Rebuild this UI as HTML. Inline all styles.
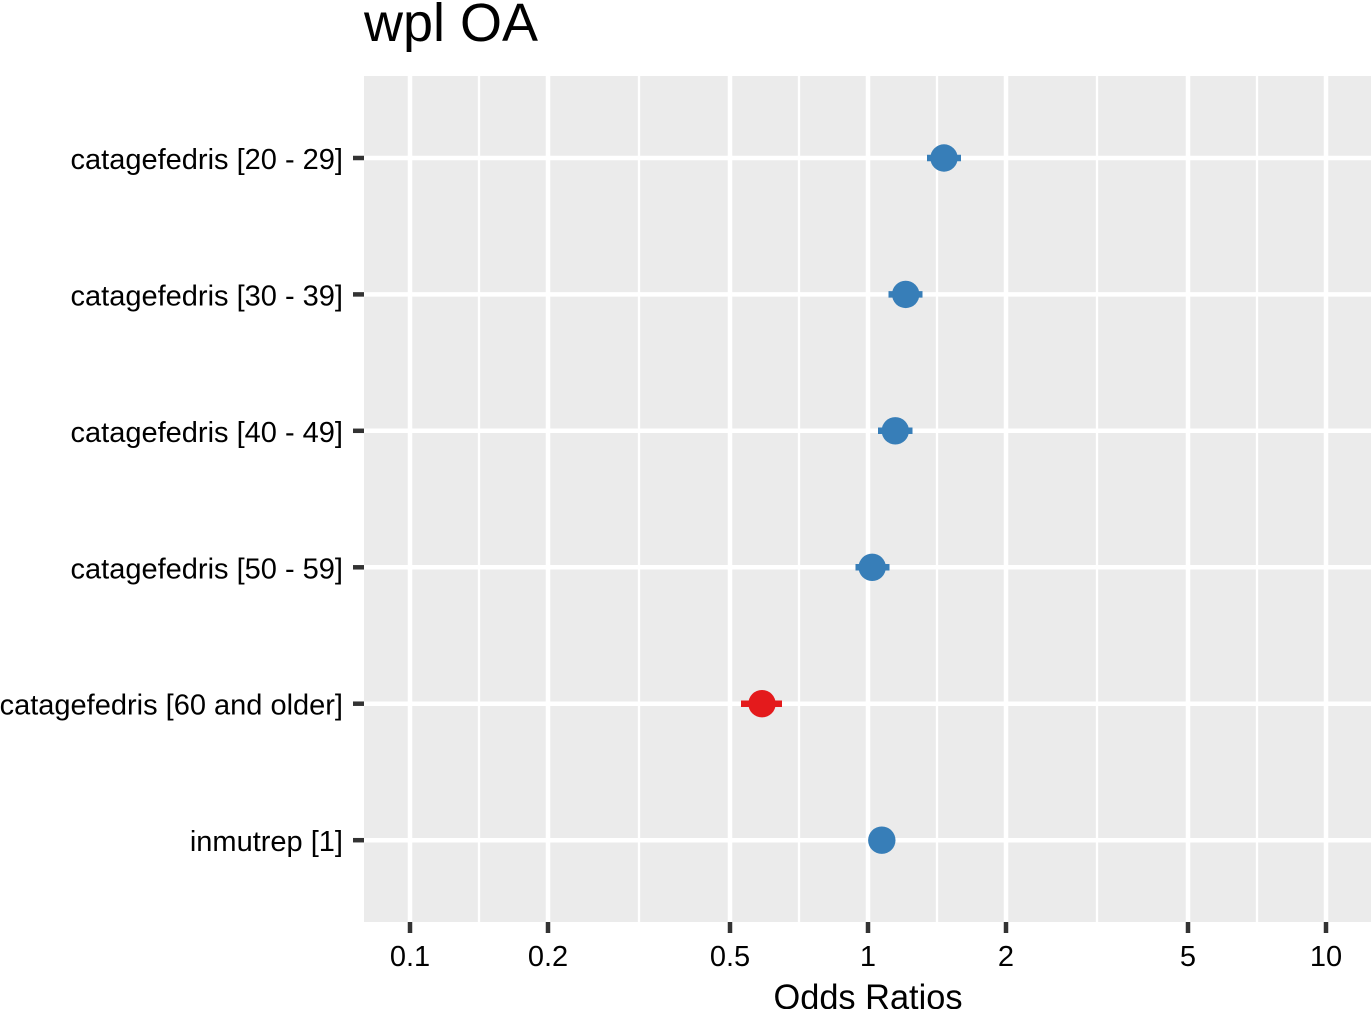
<!DOCTYPE html>
<html>
<head>
<meta charset="utf-8">
<style>
  html, body { margin: 0; padding: 0; background: #ffffff; }
  svg { display: block; }
  text { font-family: "Liberation Sans", Arial, Helvetica, sans-serif; }
</style>
</head>
<body>
<svg width="1371" height="1009" viewBox="0 0 1371 1009" xmlns="http://www.w3.org/2000/svg">
  <rect x="0" y="0" width="1371" height="1009" fill="#ffffff"/>

  <!-- Title -->
  <text x="364" y="41" font-size="54" fill="#000000" textLength="174" lengthAdjust="spacingAndGlyphs">wpl OA</text>

  <!-- Panel -->
  <rect x="364" y="76" width="1007" height="846" fill="#EBEBEB"/>

  <!-- minor vertical gridlines -->
  <g stroke="#ffffff" stroke-width="2.3">
    <line x1="479" y1="76" x2="479" y2="922"/>
    <line x1="639" y1="76" x2="639" y2="922"/>
    <line x1="799" y1="76" x2="799" y2="922"/>
    <line x1="937" y1="76" x2="937" y2="922"/>
    <line x1="1097" y1="76" x2="1097" y2="922"/>
    <line x1="1257" y1="76" x2="1257" y2="922"/>
  </g>
  <!-- major vertical gridlines -->
  <g stroke="#ffffff" stroke-width="4.5">
    <line x1="410" y1="76" x2="410" y2="922"/>
    <line x1="548" y1="76" x2="548" y2="922"/>
    <line x1="730" y1="76" x2="730" y2="922"/>
    <line x1="868" y1="76" x2="868" y2="922"/>
    <line x1="1006" y1="76" x2="1006" y2="922"/>
    <line x1="1188" y1="76" x2="1188" y2="922"/>
    <line x1="1326" y1="76" x2="1326" y2="922"/>
  </g>
  <!-- major horizontal gridlines -->
  <g stroke="#ffffff" stroke-width="4.5">
    <line x1="364" y1="158" x2="1371" y2="158"/>
    <line x1="364" y1="294.4" x2="1371" y2="294.4"/>
    <line x1="364" y1="430.8" x2="1371" y2="430.8"/>
    <line x1="364" y1="567.3" x2="1371" y2="567.3"/>
    <line x1="364" y1="703.7" x2="1371" y2="703.7"/>
    <line x1="364" y1="840.2" x2="1371" y2="840.2"/>
  </g>

  <!-- Error bars and points -->
  <g stroke="#377EB8" stroke-width="6.5">
    <line x1="927" y1="158" x2="961" y2="158"/>
    <line x1="888.5" y1="294.4" x2="922.5" y2="294.4"/>
    <line x1="878" y1="430.8" x2="912.5" y2="430.8"/>
    <line x1="855.5" y1="567.3" x2="889.5" y2="567.3"/>
  </g>
  <line x1="741" y1="703.7" x2="782" y2="703.7" stroke="#E41A1C" stroke-width="6.5"/>

  <g fill="#377EB8">
    <circle cx="944" cy="158" r="13.7"/>
    <circle cx="905.7" cy="294.4" r="13.7"/>
    <circle cx="895.3" cy="430.8" r="13.7"/>
    <circle cx="872.2" cy="567.3" r="13.7"/>
    <circle cx="881.8" cy="840.2" r="13.7"/>
  </g>
  <circle cx="762" cy="703.7" r="13.7" fill="#E41A1C"/>

  <!-- Y axis ticks -->
  <g stroke="#333333" stroke-width="4.5">
    <line x1="353" y1="158" x2="364" y2="158"/>
    <line x1="353" y1="294.4" x2="364" y2="294.4"/>
    <line x1="353" y1="430.8" x2="364" y2="430.8"/>
    <line x1="353" y1="567.3" x2="364" y2="567.3"/>
    <line x1="353" y1="703.7" x2="364" y2="703.7"/>
    <line x1="353" y1="840.2" x2="364" y2="840.2"/>
  </g>

  <!-- Y axis labels -->
  <g font-size="29" fill="#000000" text-anchor="end">
    <text x="343" y="169">catagefedris [20 - 29]</text>
    <text x="343" y="305.4">catagefedris [30 - 39]</text>
    <text x="343" y="441.8">catagefedris [40 - 49]</text>
    <text x="343" y="578.3">catagefedris [50 - 59]</text>
    <text x="343" y="714.7">catagefedris [60 and older]</text>
    <text x="343" y="851.2">inmutrep [1]</text>
  </g>

  <!-- X axis ticks -->
  <g stroke="#333333" stroke-width="4.5">
    <line x1="410" y1="922" x2="410" y2="933"/>
    <line x1="548" y1="922" x2="548" y2="933"/>
    <line x1="730" y1="922" x2="730" y2="933"/>
    <line x1="868" y1="922" x2="868" y2="933"/>
    <line x1="1006" y1="922" x2="1006" y2="933"/>
    <line x1="1188" y1="922" x2="1188" y2="933"/>
    <line x1="1326" y1="922" x2="1326" y2="933"/>
  </g>

  <!-- X axis labels -->
  <g font-size="29" fill="#000000" text-anchor="middle">
    <text x="410" y="966">0.1</text>
    <text x="548" y="966">0.2</text>
    <text x="730" y="966">0.5</text>
    <text x="868" y="966">1</text>
    <text x="1006" y="966">2</text>
    <text x="1188" y="966">5</text>
    <text x="1326" y="966">10</text>
  </g>

  <!-- X axis title -->
  <text x="868" y="1009" font-size="35" fill="#000000" text-anchor="middle" textLength="189" lengthAdjust="spacingAndGlyphs">Odds Ratios</text>
</svg>
</body>
</html>
